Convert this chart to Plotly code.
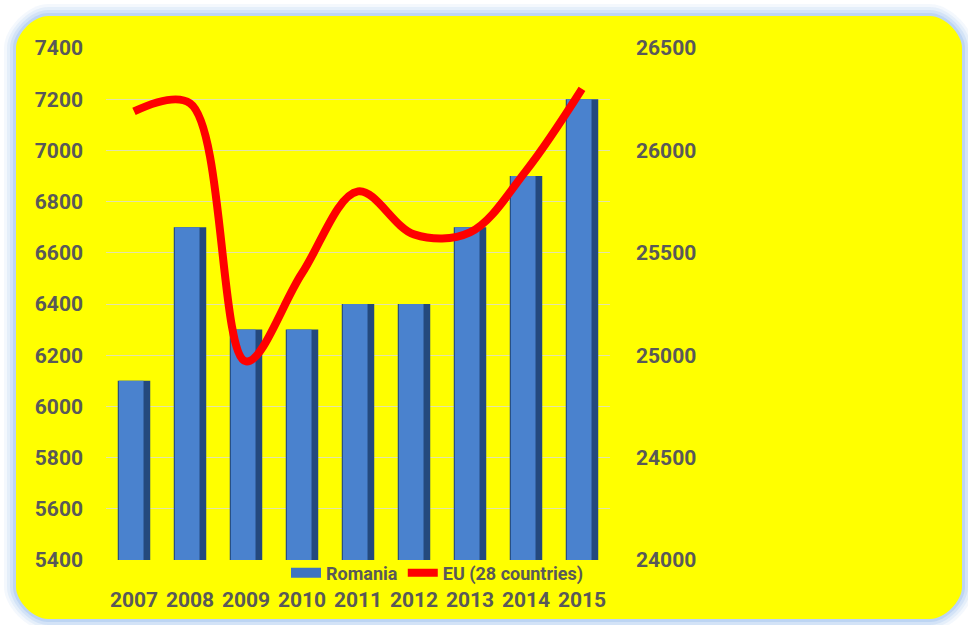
import plotly.graph_objects as go

years = ["2007", "2008", "2009", "2010", "2011", "2012", "2013", "2014", "2015"]
romania = [6100, 6700, 6300, 6300, 6400, 6400, 6700, 6900, 7200]
eu28 = [26190, 26230, 24970, 25400, 25800, 25590, 25600, 25900, 26300]
left_ticks = [5400, 5600, 5800, 6000, 6200, 6400, 6600, 6800, 7000, 7200, 7400]
right_ticks = [24000, 24500, 25000, 25500, 26000, 26500]

W, H = 968, 625
L, R, T, B = 106, 610, 48, 560

def px(x):
    return (x - L) / (R - L)

def py(y):
    return (B - y) / (B - T)

def rrect(x0, y0, x1, y1, r):
    k = 0.45 * r
    pts = [
        f"M {px(x0 + r)} {py(y0)}",
        f"L {px(x1 - r)} {py(y0)}",
        f"C {px(x1 - r + k)} {py(y0)} {px(x1)} {py(y0 + r - k)} {px(x1)} {py(y0 + r)}",
        f"L {px(x1)} {py(y1 - r)}",
        f"C {px(x1)} {py(y1 - r + k)} {px(x1 - r + k)} {py(y1)} {px(x1 - r)} {py(y1)}",
        f"L {px(x0 + r)} {py(y1)}",
        f"C {px(x0 + r - k)} {py(y1)} {px(x0)} {py(y1 - r + k)} {px(x0)} {py(y1 - r)}",
        f"L {px(x0)} {py(y0 + r)}",
        f"C {px(x0)} {py(y0 + r - k)} {px(x0 + r - k)} {py(y0)} {px(x0 + r)} {py(y0)} Z",
    ]
    return " ".join(pts)

shapes = []
for d, a in [(12, 0.10), (9, 0.15), (6, 0.22), (3, 0.35)]:
    shapes.append(dict(type="path", xref="paper", yref="paper", layer="below",
                       path=rrect(16 - d, 16 - d, 962 + d, 619 + d, 32 + d),
                       fillcolor=f"rgba(150,185,235,{a})", line=dict(width=0)))
shapes.append(dict(type="path", xref="paper", yref="paper", layer="below",
                   path=rrect(16, 16, 962, 619, 32),
                   fillcolor="#FFFF00", line=dict(width=0)))

tick_font = dict(family="Roboto", size=21, color="#595959", weight="bold")

fig = go.Figure()
fig.add_trace(go.Bar(x=years, y=romania, name="Romania", width=0.58,
                     marker=dict(color="#24497D", line=dict(width=0)),
                     showlegend=False, yaxis="y"))
fig.add_trace(go.Bar(x=years, y=romania, name="Romania", width=0.44, offset=-0.27,
                     marker=dict(color="#4A82CE", line=dict(width=0)),
                     showlegend=False, hoverinfo="skip", yaxis="y"))
# legend entry for the bars (draws nothing on the plot)
fig.add_trace(go.Scatter(x=years, y=[None] * len(years), name="Romania", mode="lines",
                         line=dict(color="#3F74BF", width=12), hoverinfo="skip", yaxis="y"))
fig.add_trace(go.Scatter(x=years, y=eu28, name="EU (28 countries)", mode="lines",
                         line=dict(color="#FF0000", width=8, shape="spline", smoothing=1.0),
                         yaxis="y2"))

fig.update_layout(
    width=W, height=H,
    margin=dict(l=L, r=W - R, t=T, b=H - B),
    paper_bgcolor="white",
    plot_bgcolor="rgba(0,0,0,0)",
    barmode="overlay",
    shapes=shapes,
    showlegend=True,
    legend=dict(orientation="h", x=px(286), y=py(573), xanchor="left", yanchor="middle",
                bgcolor="rgba(0,0,0,0)",
                font=dict(family="Roboto", size=18, color="#595959", weight="bold"),
                traceorder="normal", itemwidth=30),
    xaxis=dict(type="category", tickfont=tick_font, showgrid=False, ticks="",
               ticklabelstandoff=25, showline=False, zeroline=False),
    yaxis=dict(range=[5400, 7400], tickvals=left_ticks, tickfont=tick_font,
               showgrid=True, gridcolor="#E3E3A8", gridwidth=1, zeroline=False,
               ticks="", ticklabelstandoff=22, showline=False),
    yaxis2=dict(range=[24000, 26500], tickvals=right_ticks, tickfont=tick_font,
                tickformat="d",
                overlaying="y", side="right", showgrid=False, zeroline=False,
                ticks="", ticklabelstandoff=25, showline=False),
)

fig.write_html("out.html")
